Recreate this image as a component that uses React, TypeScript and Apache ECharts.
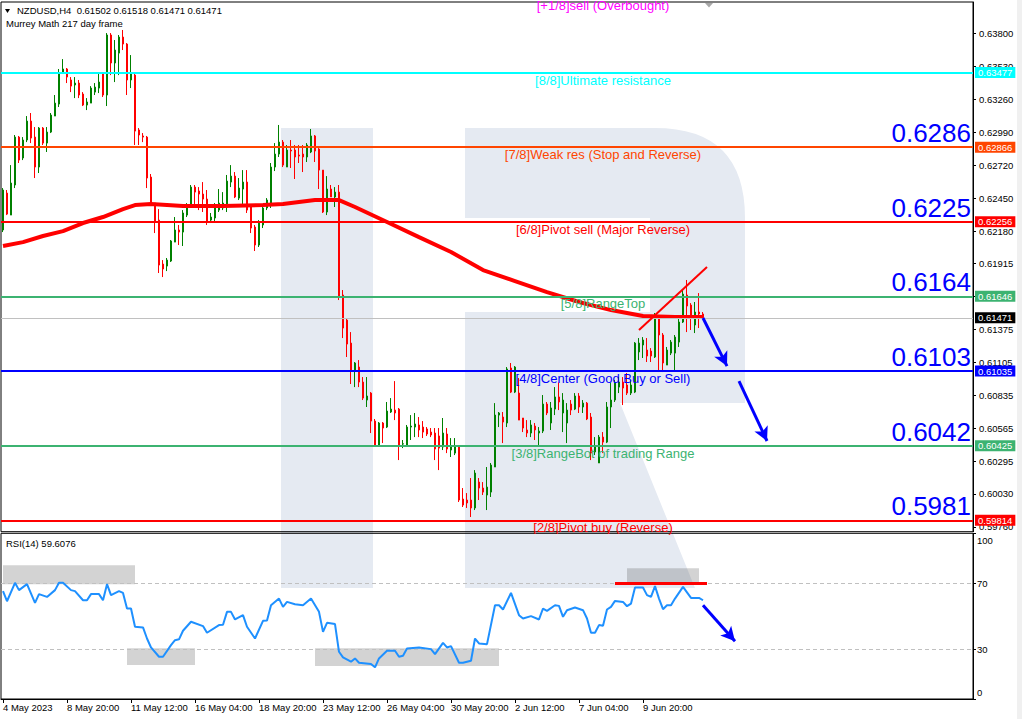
import React, { useEffect, useRef } from "react";
import * as echarts from "echarts";

const FONT = "'Liberation Sans', Arial, sans-serif";

// [open, close, low, high] per H4 bar, NZDUSD
const candles: number[][] = [
[0.62189,0.62516,0.62172,0.62532],[0.62491,0.62319,0.62311,0.62516],[0.62311,0.62573,0.62311,0.62720],[0.62557,0.62949,0.62532,0.62966],
[0.62949,0.62761,0.62737,0.62958],[0.62778,0.62925,0.62761,0.62949],[0.62925,0.63080,0.62908,0.63121],[0.63080,0.62941,0.62900,0.63146],
[0.62949,0.62704,0.62614,0.63031],[0.62704,0.63023,0.62655,0.63031],[0.63023,0.62900,0.62884,0.63031],[0.62900,0.62990,0.62827,0.63031],
[0.62990,0.63129,0.62982,0.63146],[0.63121,0.63227,0.63121,0.63293],[0.63219,0.63473,0.63195,0.63506],[0.63473,0.63506,0.63465,0.63587],
[0.63506,0.63440,0.63391,0.63514],[0.63416,0.63366,0.63317,0.63440],[0.63375,0.63391,0.63268,0.63440],[0.63391,0.63293,0.63268,0.63416],
[0.63301,0.63211,0.63203,0.63317],[0.63211,0.63236,0.63170,0.63268],[0.63227,0.63350,0.63227,0.63366],[0.63317,0.63358,0.63293,0.63391],
[0.63350,0.63399,0.63309,0.63473],[0.63473,0.63293,0.63277,0.63481],[0.63293,0.63784,0.63203,0.63800],[0.63784,0.63555,0.63456,0.63800],
[0.63555,0.63661,0.63399,0.63743],[0.63636,0.63767,0.63456,0.63784],[0.63767,0.63710,0.63661,0.63825],[0.63710,0.63416,0.63293,0.63718],
[0.63416,0.63473,0.63350,0.63620],[0.63456,0.62998,0.62884,0.63473],[0.63007,0.62966,0.62884,0.63023],[0.62958,0.62949,0.62908,0.62982],
[0.62949,0.62614,0.62532,0.62958],[0.62622,0.62401,0.62385,0.62647],[0.62409,0.62254,0.62164,0.62409],[0.62270,0.61902,0.61837,0.62360],
[0.61910,0.61870,0.61804,0.61943],[0.61894,0.61943,0.61853,0.61960],[0.61935,0.62099,0.61927,0.62107],[0.62090,0.62189,0.62090,0.62295],
[0.62189,0.62172,0.62066,0.62230],[0.62172,0.62328,0.62058,0.62352],[0.62311,0.62377,0.62295,0.62409],[0.62377,0.62540,0.62369,0.62557],
[0.62540,0.62499,0.62369,0.62557],[0.62508,0.62483,0.62352,0.62540],[0.62483,0.62442,0.62336,0.62581],[0.62442,0.62254,0.62230,0.62516],
[0.62270,0.62295,0.62246,0.62328],[0.62287,0.62369,0.62254,0.62409],[0.62352,0.62409,0.62336,0.62524],[0.62369,0.62409,0.62352,0.62499],
[0.62377,0.62589,0.62336,0.62639],[0.62581,0.62630,0.62540,0.62720],[0.62630,0.62459,0.62450,0.62663],[0.62450,0.62532,0.62434,0.62614],
[0.62524,0.62581,0.62377,0.62679],[0.62581,0.62352,0.62328,0.62679],[0.62377,0.62205,0.62164,0.62393],[0.62213,0.62066,0.62017,0.62230],
[0.62066,0.62246,0.62050,0.62270],[0.62230,0.62369,0.62205,0.62393],[0.62369,0.62434,0.62352,0.62450],[0.62409,0.62704,0.62369,0.62737],
[0.62704,0.62810,0.62671,0.62900],[0.62810,0.62908,0.62786,0.63048],[0.62908,0.62720,0.62704,0.62925],[0.62704,0.62843,0.62704,0.62884],
[0.62843,0.62835,0.62696,0.62925],[0.62843,0.62786,0.62606,0.62884],[0.62802,0.62794,0.62737,0.62884],[0.62810,0.62786,0.62663,0.62884],
[0.62786,0.62884,0.62745,0.62900],[0.62827,0.62958,0.62818,0.63015],[0.62958,0.62835,0.62745,0.62966],[0.62851,0.62679,0.62524,0.62859],
[0.62679,0.62336,0.62328,0.62679],[0.62336,0.62524,0.62311,0.62630],[0.62524,0.62459,0.62459,0.62557],[0.62459,0.62499,0.62377,0.62540],
[0.62499,0.61641,0.61616,0.62557],[0.61657,0.61387,0.61305,0.61698],[0.61452,0.61256,0.61150,0.61469],[0.61264,0.61043,0.60929,0.61354],
[0.61035,0.61101,0.60904,0.61109],[0.61068,0.60945,0.60904,0.61125],[0.60945,0.60814,0.60798,0.60986],[0.60798,0.60831,0.60741,0.60986],
[0.60855,0.60626,0.60528,0.60863],[0.60626,0.60422,0.60414,0.60643],[0.60422,0.60610,0.60414,0.60618],[0.60610,0.60569,0.60446,0.60618],
[0.60577,0.60708,0.60569,0.60782],[0.60700,0.60724,0.60692,0.60814],[0.60716,0.60692,0.60634,0.60953],[0.60724,0.60430,0.60307,0.60733],
[0.60438,0.60440,0.60405,0.60471],[0.60430,0.60577,0.60414,0.60594],[0.60577,0.60585,0.60471,0.60675],[0.60577,0.60602,0.60495,0.60692],
[0.60594,0.60553,0.60495,0.60659],[0.60577,0.60536,0.60487,0.60626],[0.60561,0.60520,0.60504,0.60577],[0.60536,0.60512,0.60495,0.60569],
[0.60528,0.60397,0.60307,0.60569],[0.60504,0.60405,0.60225,0.60569],[0.60414,0.60528,0.60389,0.60651],[0.60520,0.60397,0.60364,0.60569],
[0.60389,0.60414,0.60332,0.60487],[0.60364,0.60414,0.60348,0.60487],[0.60414,0.59980,0.59964,0.60430],[0.59988,0.59939,0.59923,0.60078],
[0.59980,0.59956,0.59915,0.60037],[0.59980,0.59915,0.59841,0.60160],[0.59915,0.60201,0.59898,0.60225],[0.60127,0.60078,0.59980,0.60160],
[0.60078,0.60045,0.60021,0.60127],[0.60021,0.60086,0.59898,0.60250],[0.60045,0.60266,0.60005,0.60283],[0.60250,0.60675,0.60250,0.60773],
[0.60675,0.60692,0.60577,0.60700],[0.60659,0.60618,0.60446,0.60700],[0.60610,0.61052,0.60577,0.61068],[0.61060,0.60863,0.60855,0.61101],
[0.60863,0.61068,0.60855,0.61076],[0.60855,0.60634,0.60634,0.60978],[0.60651,0.60569,0.60536,0.60651],[0.60553,0.60528,0.60495,0.60634],
[0.60528,0.60594,0.60495,0.60634],[0.60585,0.60553,0.60471,0.60610],[0.60528,0.60544,0.60414,0.60577],[0.60544,0.60765,0.60528,0.60839],
[0.60765,0.60692,0.60675,0.60782],[0.60610,0.60733,0.60553,0.60782],[0.60724,0.60823,0.60675,0.60904],[0.60823,0.60782,0.60716,0.60945],
[0.60692,0.60798,0.60536,0.60855],[0.60610,0.60716,0.60446,0.60773],[0.60765,0.60716,0.60675,0.60798],[0.60724,0.60831,0.60716,0.60855],
[0.60831,0.60741,0.60692,0.60855],[0.60741,0.60773,0.60692,0.60798],[0.60773,0.60643,0.60634,0.60782],[0.60659,0.60364,0.60307,0.60692],
[0.60373,0.60422,0.60348,0.60495],[0.60283,0.60495,0.60283,0.60512],[0.60495,0.60454,0.60364,0.60536],[0.60454,0.60741,0.60446,0.60782],
[0.60741,0.60798,0.60569,0.60937],[0.60798,0.60937,0.60782,0.60962],[0.60904,0.60945,0.60855,0.60986],[0.60945,0.60896,0.60757,0.60986],
[0.60921,0.60855,0.60839,0.61019],[0.60855,0.60921,0.60839,0.60962],[0.60863,0.61264,0.60855,0.61272],[0.61191,0.61264,0.61125,0.61305],
[0.61248,0.61289,0.61142,0.61313],[0.61207,0.61158,0.61109,0.61305],[0.61199,0.61158,0.61109,0.61223],[0.61150,0.61477,0.61142,0.61510],
[0.61469,0.61330,0.61027,0.61493],[0.61330,0.61101,0.61027,0.61346],[0.61084,0.61207,0.61084,0.61232],[0.61182,0.61272,0.61166,0.61289],
[0.61182,0.61313,0.61043,0.61330],[0.61272,0.61436,0.61232,0.61477],[0.61436,0.61665,0.61428,0.61698],[0.61657,0.61567,0.61354,0.61780],
[0.61575,0.61493,0.61371,0.61591],[0.61412,0.61518,0.61346,0.61600],[0.61518,0.61502,0.61387,0.61673],[0.61502,0.61471,0.61471,0.61518],
];

// moving average (bar index, value)
const maPoints: number[][] = [
[0,0.62058],[5,0.62090],[10,0.62140],[15,0.62180],[20,0.62246],[25,0.62295],[30,0.62360],[33,0.62393],[37,0.62401],
[45,0.62385],[55,0.62385],[65,0.62393],[70,0.62401],[74,0.62418],[78,0.62434],[84,0.62434],[88,0.62377],[96,0.62254],
[104,0.62131],[112,0.62009],[120,0.61861],[128,0.61771],[136,0.61681],[144,0.61600],[152,0.61534],[160,0.61485],
[168,0.61477],[175,0.61477],
];

// RSI(14) (bar index, value)
const rsiPoints: number[][] = [
[0,65.1],[1,59.0],[3,70.1],[4,65.7],[6,69.3],[8,58.0],[9,63.3],[11,61.6],[13,65.7],[14,70.1],[15,70.1],[17,65.7],
[18,65.1],[20,59.6],[21,59.6],[22,63.3],[24,63.3],[25,59.6],[26,69.3],[27,62.7],[29,65.1],[30,64.0],[31,54.6],[32,54.6],
[33,43.6],[35,43.2],[36,36.5],[37,31.1],[39,25.5],[40,25.5],[42,32.5],[43,35.5],[44,36.0],[45,41.2],[47,46.6],[50,44.0],
[51,40.0],[54,44.6],[55,44.8],[56,52.6],[57,52.6],[58,48.0],[60,50.6],[61,43.6],[63,36.5],[65,47.2],[66,47.4],[67,56.6],
[69,60.6],[70,55.6],[71,58.6],[73,57.2],[75,56.6],[77,60.6],[79,52.6],[80,40.5],[81,46.0],[83,45.2],[84,28.5],[85,25.1],
[87,22.5],[88,24.5],[89,21.9],[92,21.1],[93,19.1],[94,24.5],[96,29.1],[98,29.1],[99,25.5],[100,26.1],[101,30.5],[104,31.1],
[107,30.1],[108,27.1],[110,33.9],[111,31.1],[112,31.9],[114,21.9],[115,21.9],[117,23.1],[118,36.5],[119,33.5],[121,33.1],
[123,56.6],[124,56.6],[125,54.0],[127,64.0],[129,50.6],[130,48.6],[132,50.0],[134,48.0],[135,54.6],[136,53.2],[138,56.6],
[139,56.2],[140,49.6],[141,53.6],[143,55.2],[145,53.6],[146,48.6],[147,40.0],[148,40.0],[149,44.6],[150,44.2],[151,54.0],
[152,55.6],[153,59.2],[155,58.6],[156,56.0],[157,57.6],[158,67.3],[160,67.3],[161,62.7],[162,61.6],[163,68.1],[164,60.6],
[165,54.2],[166,56.6],[167,56.6],[168,60.6],[170,67.7],[172,61.0],[174,61.0],[175,59.6],
];

// Murrey Math levels
const levelValues = [0.64088, 0.63477, 0.62866, 0.62256, 0.61646, 0.61035, 0.60425, 0.59814];
const levelNames = [
  "[+1/8]sell (Overbought)", "[8/8]Ultimate resistance", "[7/8]Weak res (Stop and Reverse)",
  "[6/8]Pivot sell (Major Reverse)", "[5/8]RangeTop", "[4/8]Center (Good Buy or Sell)",
  "[3/8]RangeBot of trading Range", "[2/8]Pivot buy (Reverse)",
];
const levelColors = ["#ff00ff", "#00ffff", "#ff4500", "#ff0000", "#3cb371", "#0000ff", "#3cb371", "#ff0000"];
const bigLabels = ["", "", "0.6286", "0.6225", "0.6164", "0.6103", "0.6042", "0.5981"];

const lastPrice = 0.61471;
const priceTicks = [0.5976, 0.6003, 0.60295, 0.60565, 0.60835, 0.61105, 0.61375, 0.61645, 0.61915, 0.6218, 0.6245, 0.6272, 0.6299, 0.6326, 0.6353, 0.638];
const rsiTicks = [0, 30, 70, 100];
const xTickLabels = ["4 May 2023", "8 May 20:00", "11 May 12:00", "16 May 04:00", "18 May 20:00", "23 May 12:00", "26 May 04:00", "30 May 20:00", "2 Jun 12:00", "7 Jun 04:00", "9 Jun 20:00"];
const TICK_STEP = 16;
const SLOTS = 243;

// drawn objects (bar index, price)
const trendLine = [[158.75, 0.61371], [176, 0.61886]];
const arrow1 = [[175, 0.61469], [180.5, 0.61076]];
const arrow2 = [[183.75, 0.60953], [190.5, 0.60463]];
const rsiRedLine = [[152.75, 70], [176, 70]];
const rsiArrow = [[175, 56.6], [182.5, 34.9]];
const rsiBoxes = [
  [[0, 80.7], [33, 69.3]],
  [[31, 30.7], [48, 20.5]],
  [[78, 30.7], [124, 19.9]],
  [[156, 78.9], [174, 69.9]],
];

const Y_MIN = 0.59721;
const Y_MAX = 0.64054;

const LOGO_D =
  "M281 128 H373 V588 H281 Z " +
  "M465 128 H655 Q745 128 745 218 V403 H465 V312 H650 V218 H465 Z " +
  "M465 403 H620 L695 588 H465 Z";
const LOGO_COLOR = "#e5eaf2";

function buildOption() {
  const categories = Array.from({ length: SLOTS }, (_, i) => String(i));
  const smallText = { fontSize: 9.5, color: "#000", fontFamily: FONT };

  const levelLines: any[] = [];
  const levelPoints: any[] = [];
  levelValues.forEach((v, k) => {
    const color = levelColors[k];
    if (k > 0) {
      levelLines.push({
        yAxis: v,
        lineStyle: { color, width: 2, type: "solid" },
        label: {
          show: true, position: "end", distance: 2, formatter: v.toFixed(5),
          color: "#fff", backgroundColor: color, padding: [1, 3, 0, 3],
          fontSize: 9.5, fontFamily: FONT, lineHeight: 10,
        },
      });
    }
    levelPoints.push({
      coord: [150, k === 0 ? Y_MAX - 0.00001 : v],
      value: 0,
      label: {
        show: true, position: "bottom", distance: 1, offset: k === 0 ? [0, -4] : [0, 0],
        formatter: levelNames[k], color, fontSize: 13, fontFamily: FONT,
      },
    });
    if (bigLabels[k]) {
      levelPoints.push({
        coord: [242, v],
        value: 0,
        label: {
          show: true, position: "left", distance: 0, offset: [0, -14],
          formatter: bigLabels[k], color: "#0000ff", fontSize: 26, fontFamily: FONT,
        },
      });
    }
  });
  levelLines.push({
    yAxis: lastPrice,
    lineStyle: { color: "#c0c0c0", width: 1, type: "solid" },
    label: {
      show: true, position: "end", distance: 2, formatter: lastPrice.toFixed(5),
      color: "#fff", backgroundColor: "#000", padding: [1, 3, 0, 3], fontSize: 9.5, fontFamily: FONT, lineHeight: 10,
    },
  });
  levelLines.push([
    { coord: trendLine[0], lineStyle: { color: "#ff0000", width: 2, type: "solid" }, label: { show: false } },
    { coord: trendLine[1] },
  ]);
  [arrow1, arrow2].forEach((a) => {
    levelLines.push([
      { coord: a[0], symbol: "none", lineStyle: { color: "#0000ff", width: 3, type: "solid" }, label: { show: false } },
      { coord: a[1], symbol: "arrow", symbolSize: [11, 14] },
    ]);
  });

  return {
    animation: false,
    backgroundColor: "#fff",
    textStyle: { fontFamily: FONT },
    grid: [
      { left: 1, top: 2, width: 972, height: 529.7, show: true, borderColor: "#000", borderWidth: 1, backgroundColor: "transparent" },
      { left: 1, top: 533.3, width: 972, height: 165.7, show: true, borderColor: "#000", borderWidth: 1, backgroundColor: "transparent" },
    ],
    xAxis: [
      {
        type: "category", gridIndex: 0, data: categories, boundaryGap: true,
        axisLine: { show: false }, axisTick: { show: false }, axisLabel: { show: false }, splitLine: { show: false },
      },
      {
        type: "category", gridIndex: 1, data: categories, boundaryGap: true,
        axisLine: { show: true, lineStyle: { color: "#000" } },
        axisTick: {
          show: true, alignWithLabel: true, length: 4, lineStyle: { color: "#000" },
          interval: (i: number) => i % TICK_STEP === 0 && i / TICK_STEP < xTickLabels.length,
        },
        axisLabel: {
          show: true, interval: 0, align: "left", margin: 3, ...smallText,
          formatter: (_v: string, i: number) =>
            i % TICK_STEP === 0 && i / TICK_STEP < xTickLabels.length ? xTickLabels[i / TICK_STEP] : "",
        },
        splitLine: { show: false },
      },
    ],
    yAxis: [
      {
        type: "value", gridIndex: 0, position: "right", min: Y_MIN, max: Y_MAX,
        axisLine: { show: true, lineStyle: { color: "#000" } },
        axisTick: { show: true, customValues: priceTicks, length: 3, lineStyle: { color: "#000" } },
        axisLabel: { show: true, customValues: priceTicks, margin: 6, formatter: (v: number) => v.toFixed(5), ...smallText },
        splitLine: { show: false },
      },
      {
        type: "value", gridIndex: 1, position: "right", min: 0, max: 100,
        axisLine: { show: true, lineStyle: { color: "#000" } },
        axisTick: { show: true, customValues: rsiTicks, length: 3, lineStyle: { color: "#000" } },
        axisLabel: {
          show: true, customValues: rsiTicks, margin: 4, ...smallText,
          formatter: (v: number) => (v === 100 ? "{t|100}" : v === 0 ? "{b|0}" : String(v)),
          rich: {
            t: { padding: [14, 0, 0, 0], fontSize: 9.5, color: "#000", fontFamily: FONT },
            b: { padding: [0, 0, 14, 0], fontSize: 9.5, color: "#000", fontFamily: FONT },
          },
        },
        splitLine: { show: false },
      },
    ],
    series: [
      {
        type: "candlestick", name: "NZDUSD", xAxisIndex: 0, yAxisIndex: 0, data: candles, barWidth: 2,
        itemStyle: { color: "#008000", color0: "#ff0000", borderColor: "#008000", borderColor0: "#ff0000", borderWidth: 1 },
      },
      {
        type: "line", name: "MA", xAxisIndex: 0, yAxisIndex: 0, data: maPoints, symbol: "none",
        lineStyle: { color: "#ff0000", width: 4 }, z: 3,
        markLine: { silent: true, animation: false, precision: 5, symbol: ["none", "none"], lineStyle: { type: "solid" }, data: levelLines },
        markPoint: { silent: true, animation: false, symbol: "circle", symbolSize: 0, data: levelPoints },
      },
      {
        type: "line", name: "RSI(14)", xAxisIndex: 1, yAxisIndex: 1, data: rsiPoints, symbol: "none",
        lineStyle: { color: "#1e90ff", width: 2 }, z: 5,
        markLine: {
          silent: true, animation: false, precision: 3, symbol: ["none", "none"], label: { show: false }, lineStyle: { type: "solid" },
          data: [
            { yAxis: 70, lineStyle: { color: "#c0c0c0", width: 1, type: [4, 3] } },
            { yAxis: 30, lineStyle: { color: "#c0c0c0", width: 1, type: [4, 3] } },
            [{ coord: rsiRedLine[0], lineStyle: { color: "#ff0000", width: 3, type: "solid" } }, { coord: rsiRedLine[1] }],
            [
              { coord: rsiArrow[0], symbol: "none", lineStyle: { color: "#0000ff", width: 3, type: "solid" } },
              { coord: rsiArrow[1], symbol: "arrow", symbolSize: [11, 14] },
            ],
          ],
        },
        markArea: {
          silent: true,
          itemStyle: { color: "rgba(86,86,86,0.26)" },
          data: rsiBoxes.map((b) => [{ coord: b[0] }, { coord: b[1] }]),
        },
      },
    ],
    graphic: [
      { type: "logoR", x: 0, y: 0, z: -1, silent: true, style: { fill: LOGO_COLOR } },
      { type: "rect", z: 10, silent: true, shape: { x: 528, y: 534, width: 140, height: 7 }, style: { fill: LOGO_COLOR } },
      { type: "polygon", z: 10, silent: true, shape: { points: [[5, 9], [10, 9], [7.5, 13]] }, style: { fill: "#000" } },
      { type: "text", z: 10, silent: true, x: 17, y: 5, style: { text: "NZDUSD,H4  0.61502 0.61518 0.61471 0.61471", fontSize: 9.5, fontFamily: FONT, fill: "#000" } },
      { type: "text", z: 10, silent: true, x: 6, y: 18, style: { text: "Murrey Math 217 day frame", fontSize: 9.5, fontFamily: FONT, fill: "#000" } },
      { type: "text", z: 10, silent: true, x: 6, y: 538, style: { text: "RSI(14) 59.6076", fontSize: 9.5, fontFamily: FONT, fill: "#000" } },
      { type: "polygon", z: 10, silent: true, shape: { points: [[705, 3], [713, 3], [709, 7.5]] }, style: { fill: "#a8a8a8" } },
      { type: "rect", z: 10, silent: true, shape: { x: 1017, y: 0, width: 5, height: 719 }, style: { fill: "#f0f0f0" } },
    ],
  };
}

export default function App() {
  const ref = useRef<HTMLDivElement>(null);
  useEffect(() => {
    document.body.style.margin = "0";
    echarts.graphic.registerShape("logoR", echarts.graphic.extendPath(LOGO_D, {}));
    const chart = echarts.init(ref.current as HTMLDivElement, null, { renderer: "svg" });
    chart.setOption(buildOption() as any);
    return () => chart.dispose();
  }, []);
  return <div ref={ref} style={{ width: 1022, height: 719 }} />;
}
